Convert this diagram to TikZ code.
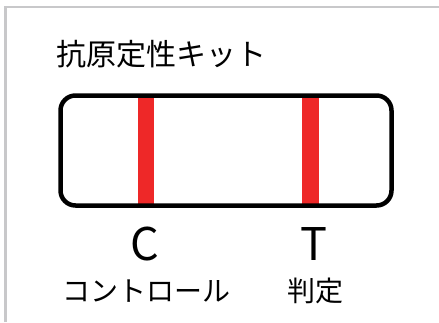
\documentclass[tikz,border=0pt]{standalone}
\usepackage{fontspec}
\setmainfont{Noto Sans CJK JP}
\definecolor{framegray}{RGB}{200,200,202}
\definecolor{barred}{RGB}{238,40,40}
\begin{document}
\begin{tikzpicture}[x=1pt,y=-1pt,
  frameline/.style={draw=framegray,line width=2.5pt},
  kit/.style={draw=black,line width=4.5pt,rounded corners=15pt},
  bar/.style={fill=barred},
  lbl/.style={inner sep=0pt,anchor=base}]
\useasboundingbox (0,0) rectangle (439,322);
\coordinate (fl) at (5.5,322);
\coordinate (fc) at (5.5,7);
\coordinate (fr) at (439,7);
\draw[frameline] (fl) -- (fc) -- (fr);
\node[lbl,anchor=base west,font=\fontsize{30}{30}\selectfont] (title) at (56,65) {抗原定性キット};
\fill[bar] (137.5,95) rectangle (154,206);
\fill[bar] (302,95) rectangle (319,206);
\draw[kit] (60.5,95.5) rectangle (391.5,205.5);
\node[lbl,font=\fontsize{45}{45}\selectfont] (c) at (145,260) {C};
\node[lbl,font=\fontsize{45}{45}\selectfont] (t) at (314,260) {T};
\node[lbl,font=\fontsize{28}{28}\selectfont] (cl) at (146,301) {コントロール};
\node[lbl,font=\fontsize{28}{28}\selectfont] (tl) at (315,301) {判定};
\end{tikzpicture}
\end{document}
